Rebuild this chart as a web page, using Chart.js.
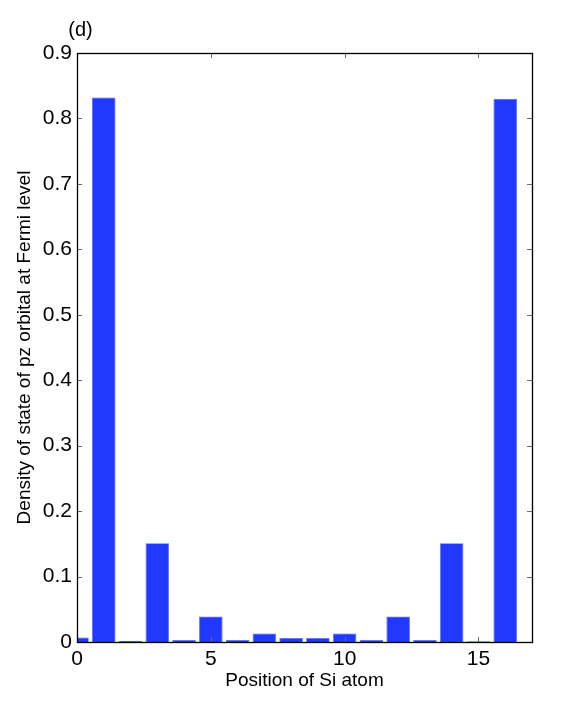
<!DOCTYPE html>
<html>
<head>
<meta charset="utf-8">
<script src="https://cdn.jsdelivr.net/npm/chart.js@4/dist/chart.umd.min.js"></script>
<style>
  html, body { margin: 0; padding: 0; background: #ffffff; }
  #wrap { width: 588px; height: 722px; }
</style>
</head>
<body>
<div id="wrap"><canvas id="c" width="588" height="722"></canvas></div>
<script>
// ---- data ----
const positions = [0, 1, 2, 3, 4, 5, 6, 7, 8, 9, 10, 11, 12, 13, 14, 15, 16];
const dosValues = [0.007, 0.832, 0.002, 0.151, 0.003, 0.039, 0.003, 0.013, 0.006, 0.006, 0.013, 0.003, 0.039, 0.003, 0.151, 0.001, 0.830];
const xTickValues = [0, 5, 10, 15];
const yTickValues = [0, 0.1, 0.2, 0.3, 0.4, 0.5, 0.6, 0.7, 0.8, 0.9];
const yTickLabels = ['0', '0.1', '0.2', '0.3', '0.4', '0.5', '0.6', '0.7', '0.8', '0.9'];
const panelLabel = '(d)';
const xTitle = 'Position of Si atom';
const yTitle = 'Density of state of pz orbital at Fermi level';

const FONT = "'Liberation Sans', Arial, Helvetica, sans-serif";

const boxAndTicks = {
  id: 'boxAndTicks',
  afterDatasetsDraw(chart) {
    const {ctx, chartArea: a, scales: {x, y}} = chart;
    ctx.save();
    // inward tick marks (MATLAB style)
    ctx.strokeStyle = '#6a6a6a';
    ctx.lineWidth = 1;
    const len = 5;
    ctx.beginPath();
    yTickValues.forEach(v => {
      const py = Math.round(y.getPixelForValue(v)) + 0.5;
      ctx.moveTo(a.left, py); ctx.lineTo(a.left + len, py);
      ctx.moveTo(a.right, py); ctx.lineTo(a.right - len, py);
    });
    xTickValues.forEach(v => {
      const px = Math.round(x.getPixelForValue(v)) + 0.5;
      ctx.moveTo(px, a.bottom); ctx.lineTo(px, a.bottom - len);
      ctx.moveTo(px, a.top); ctx.lineTo(px, a.top + len);
    });
    ctx.stroke();
    // axes box
    ctx.strokeStyle = '#000000';
    ctx.lineWidth = 1.3;
    ctx.strokeRect(Math.round(a.left) + 0.5, Math.round(a.top) + 0.5,
                   Math.round(a.right - a.left), Math.round(a.bottom - a.top));
    // panel label
    ctx.fillStyle = '#000000';
    ctx.font = '20px ' + FONT;
    ctx.textAlign = 'center';
    ctx.textBaseline = 'middle';
    ctx.fillText(panelLabel, 80.5, 30);
    ctx.restore();
  }
};

new Chart(document.getElementById('c'), {
  type: 'bar',
  data: {
    datasets: [{
      data: positions.map((p, i) => ({x: p, y: dosValues[i]})),
      backgroundColor: '#2139ff',
      borderColor: '#5a6dff',
      borderWidth: 0.8,
      barPercentage: 0.88,
      categoryPercentage: 1.0,
      clip: 0
    }]
  },
  options: {
    responsive: false,
    animation: false,
    devicePixelRatio: 1,
    layout: { padding: { top: 53, right: 56, bottom: 0, left: 0 } },
    plugins: { legend: { display: false }, tooltip: { enabled: false }, title: { display: false } },
    scales: {
      x: {
        type: 'linear',
        min: 0, max: 17,
        offset: false,
        grid: { display: false, drawTicks: false },
        border: { display: false },
        afterBuildTicks: s => { s.ticks = xTickValues.map(v => ({value: v})); },
        afterFit: s => { s.height = 80; },
        ticks: {
          color: '#000', padding: 5,
          font: { family: FONT, size: 21 },
          callback: v => String(v)
        },
        title: {
          display: true, text: xTitle, color: '#000',
          font: { family: FONT, size: 19 },
          padding: { top: 0, bottom: 30 }
        }
      },
      y: {
        min: 0, max: 0.9,
        grid: { display: false, drawTicks: false },
        border: { display: false },
        afterBuildTicks: s => { s.ticks = yTickValues.map(v => ({value: v})); },
        afterFit: s => { s.width = 77; },
        ticks: {
          color: '#000', padding: 5,
          font: { family: FONT, size: 21 },
          callback: (v) => {
            const i = yTickValues.findIndex(t => Math.abs(t - v) < 1e-9);
            return i >= 0 ? yTickLabels[i] : '';
          }
        },
        title: {
          display: true, text: yTitle, color: '#000',
          font: { family: FONT, size: 19 },
          padding: { top: 13, bottom: 0 }
        }
      }
    }
  },
  plugins: [boxAndTicks]
});
</script>
</body>
</html>
